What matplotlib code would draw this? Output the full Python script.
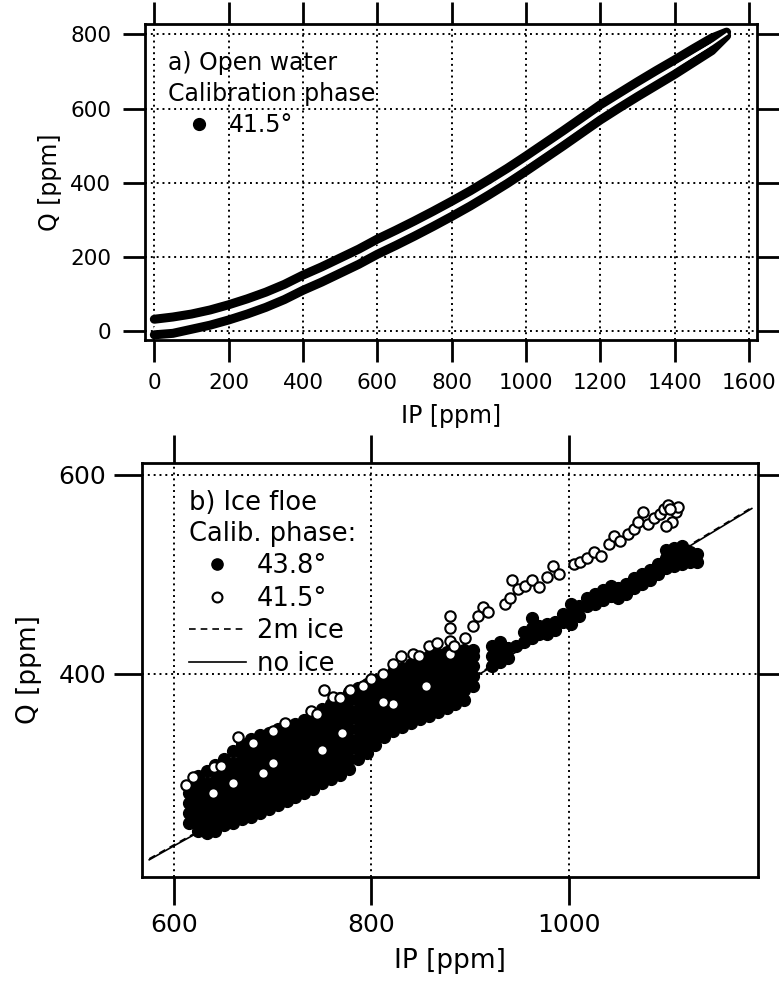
import matplotlib
matplotlib.use("Agg")
import matplotlib.pyplot as plt

plt.rcParams['font.family'] = ['DejaVu Sans']
plt.rcParams['font.size'] = 15

# --- a) open water, calibration phase 41.5 deg ---
ip_a = [0, 50, 100, 150, 200, 250, 300, 350, 400, 450, 500, 550, 600, 650, 700,
        750, 800, 850, 900, 950, 1000, 1050, 1100, 1150, 1200, 1250, 1300, 1350,
        1400, 1450, 1500, 1540]
q_a_upper = [32, 38, 46, 57, 71, 87, 105, 126, 151, 173, 197, 221, 248, 272, 297,
             323, 350, 378, 408, 439, 472, 506, 540, 575, 610, 641, 672, 702,
             731, 761, 790, 806]
q_a_lower = [-10, -6, 5, 16, 30, 46, 64, 85, 110, 132, 156, 180, 207, 231, 256,
             282, 309, 337, 367, 398, 431, 465, 499, 534, 569, 601, 632, 662,
             692, 724, 756, 796]
q_a_fit = [8, 15, 25, 36, 50, 66, 84, 105, 130, 152, 176, 200, 227, 251, 276,
           302, 329, 357, 387, 418, 451, 485, 519, 554, 589, 621, 652, 682,
           712, 742, 773, 801]

# --- b) ice floe, phase 43.8 deg (filled) ---
ip_438 = [615, 615, 615, 615, 615,
          624, 624, 624, 624, 624, 624, 624,
          633, 633, 633, 633, 633, 633, 633,
          642, 642, 642, 642, 642, 642, 642, 642,
          651, 651, 651, 651, 651, 651, 651, 651,
          660, 660, 660, 660, 660, 660, 660, 660,
          669, 669, 669, 669, 669, 669, 669, 669, 669,
          678, 678, 678, 678, 678, 678, 678, 678, 678,
          687, 687, 687, 687, 687, 687, 687, 687, 687,
          696, 696, 696, 696, 696, 696, 696, 696, 696,
          705, 705, 705, 705, 705, 705, 705, 705, 705,
          714, 714, 714, 714, 714, 714, 714, 714, 714,
          723, 723, 723, 723, 723, 723, 723, 723, 723,
          732, 732, 732, 732, 732, 732, 732, 732, 732,
          741, 741, 741, 741, 741, 741, 741, 741, 741,
          750, 750, 750, 750, 750, 750, 750, 750, 750,
          759, 759, 759, 759, 759, 759, 759, 759, 759,
          768, 768, 768, 768, 768, 768, 768, 768, 768,
          777, 777, 777, 777, 777, 777, 777, 777, 777,
          786, 786, 786, 786, 786, 786, 786, 786, 786,
          795, 795, 795, 795, 795, 795, 795, 795,
          804, 804, 804, 804, 804, 804, 804, 804,
          813, 813, 813, 813, 813, 813, 813, 813,
          822, 822, 822, 822, 822, 822, 822,
          831, 831, 831, 831, 831, 831, 831,
          840, 840, 840, 840, 840, 840, 840,
          849, 849, 849, 849, 849, 849, 849,
          858, 858, 858, 858, 858, 858, 858,
          867, 867, 867, 867, 867, 867, 867,
          876, 876, 876, 876, 876, 876, 876,
          885, 885, 885, 885, 885, 885, 885,
          894, 894, 894, 894, 894, 894,
          903, 903, 903, 903, 903,
          922, 922, 922, 930, 930, 930, 938, 938, 946, 954, 954,
          962, 962, 962, 970, 970, 978, 978, 986, 986, 994, 994,
          1002, 1002, 1002, 1010, 1010, 1018, 1018, 1026, 1026, 1034, 1034,
          1042, 1042, 1050, 1050, 1058, 1058, 1066, 1066, 1074, 1074,
          1082, 1082, 1090, 1090, 1098, 1098, 1098, 1106, 1106, 1106,
          1114, 1114, 1114, 1122, 1122, 1130, 1130]
q_438 = [250, 260, 270, 280, 286,
         242, 252, 262, 272, 282, 292, 297,
         240, 250, 260, 270, 280, 290, 302,
         242, 252, 262, 272, 282, 292, 302, 308,
         248, 258, 268, 278, 288, 298, 308, 314,
         250, 260, 270, 280, 290, 300, 310, 322,
         254, 264, 274, 284, 294, 304, 314, 322, 329,
         256, 266, 276, 286, 296, 306, 316, 326, 334,
         260, 270, 280, 290, 300, 310, 320, 330, 338,
         264, 274, 284, 294, 304, 314, 324, 334, 340,
         268, 278, 288, 298, 308, 318, 328, 338, 344,
         272, 282, 292, 302, 312, 322, 332, 342, 346,
         276, 286, 296, 306, 316, 326, 336, 346, 349,
         280, 290, 300, 310, 320, 330, 340, 350, 353,
         284, 294, 304, 314, 324, 334, 344, 354, 358,
         290, 300, 310, 320, 330, 340, 350, 360, 365,
         294, 304, 314, 324, 334, 344, 354, 364, 370,
         298, 308, 318, 328, 338, 348, 358, 368, 376,
         304, 314, 324, 334, 344, 354, 364, 374, 382,
         314, 324, 334, 344, 354, 364, 374, 384, 386,
         320, 330, 340, 350, 360, 370, 380, 390,
         328, 338, 348, 358, 368, 378, 388, 394,
         336, 346, 356, 366, 376, 386, 396, 398,
         342, 352, 362, 372, 382, 392, 402,
         346, 356, 366, 376, 386, 396, 406,
         350, 360, 370, 380, 390, 400, 410,
         354, 364, 374, 384, 394, 404, 414,
         358, 368, 378, 388, 398, 408, 418,
         362, 372, 382, 392, 402, 412, 420,
         366, 376, 386, 396, 406, 416, 422,
         370, 380, 390, 400, 410, 420, 424,
         374, 384, 394, 404, 414, 424,
         388, 398, 408, 418, 424,
         408, 418, 428, 412, 422, 432, 416, 426, 428, 432, 442,
         436, 446, 456, 440, 448, 440, 450, 444, 452, 452, 460,
         450, 460, 470, 458, 468, 468, 476, 470, 480, 474, 484,
         478, 488, 476, 486, 480, 490, 486, 496, 490, 500,
         494, 504, 500, 510, 506, 516, 524, 508, 518, 526,
         510, 520, 528, 512, 522, 512, 520]

# --- b) ice floe, phase 41.5 deg (open) ---
ip_415 = [612, 619, 641, 648, 665, 680, 700, 712, 739, 745, 752, 761, 768, 778,
          791, 800, 812, 822, 830, 842, 848, 858, 866, 879, 879, 879, 879, 884,
          895, 903, 908, 913, 918, 935, 940, 942, 948, 955, 962, 970, 978, 984,
          990, 1005, 1011, 1018, 1025, 1032, 1040, 1045, 1052, 1060, 1066, 1070,
          1075, 1080, 1086, 1092, 1096, 1100, 1104, 1108, 1110, 1098, 1102,
          640, 660, 700, 750, 822, 855, 690, 770, 812]
q_415 = [288, 296, 306, 307, 336, 330, 342, 350, 363, 360, 384, 377, 376, 384,
         388, 395, 400, 410, 418, 420, 418, 428, 431, 420, 433, 446, 458, 428,
         436, 448, 458, 467, 462, 470, 476, 494, 485, 488, 494, 487, 497, 508,
         500, 510, 512, 516, 522, 518, 530, 538, 533, 540, 545, 552,
         562, 550, 556, 560, 566, 570, 552, 562, 568, 548, 566,
         280, 290, 310, 323, 370, 388, 300, 340, 372]

# --- b) model curves ---
ip_model = [575, 600, 700, 800, 910, 1000, 1100, 1185]
q_noice = [213, 227, 282, 338, 400, 454, 515, 566]
q_2m = [214, 228, 283, 339, 401, 455, 516, 567]

fig = plt.figure(figsize=(7.79, 9.81), dpi=100)

tick_kw = dict(direction='out', width=2, top=True, right=True,
               labeltop=False, labelright=False)

# top panel
ax1 = fig.add_axes([0.1857, 0.6534, 0.7857, 0.3218])
ax1.plot(ip_a, q_a_upper, '-', color='black', lw=6.5, solid_capstyle='round')
ax1.plot(ip_a, q_a_lower, '-', color='black', lw=6.5, solid_capstyle='round')
ax1.plot(ip_a, q_a_fit, '-', color='white', lw=1.5)
ax1.plot([], [], 'o', color='black', ms=8.5, label='41.5°')
ax1.set_xlim(-26, 1621)
ax1.set_ylim(-24, 827)
ax1.set_xticks(range(0, 1601, 200))
ax1.set_yticks(range(0, 801, 200))
ax1.grid(True, linestyle=(0, (1, 2)), color='black', lw=1.4)
ax1.tick_params(length=16, pad=8, labelsize=15.5, **tick_kw)
ax1.set_xlabel('IP [ppm]', fontsize=17, labelpad=8)
ax1.set_ylabel('Q [ppm]', fontsize=17, labelpad=6)
leg1 = ax1.legend(loc='upper left', bbox_to_anchor=(0.038, 0.915), frameon=False,
                  title='a) Open water\nCalibration phase', alignment='left',
                  fontsize=17, title_fontsize=17, handlelength=2.63,
                  handletextpad=-0.05, labelspacing=0.3,
                  borderaxespad=0, borderpad=0)
leg1.get_title().set_linespacing(1.37)

# bottom panel
ax2 = fig.add_axes([0.1827, 0.1063, 0.79, 0.422])
ax2.plot(ip_model, q_2m, linestyle=(0, (4, 3)), color='black', lw=1.2, label='2m ice')
ax2.plot(ip_model, q_noice, '-', color='black', lw=1.2, label='no ice')
ax2.plot(ip_438, q_438, 'o', color='black', ms=8.5, ls='none', label='43.8°')
ax2.plot(ip_415, q_415, 'o', mfc='white', mec='black', mew=1.5, ms=7.5,
         ls='none', label='41.5°')
ax2.set_xlim(568, 1191)
ax2.set_ylim(196, 612)
ax2.set_xticks([600, 800, 1000])
ax2.set_yticks([400, 600])
ax2.grid(True, linestyle=(0, (1, 2)), color='black', lw=1.4)
ax2.tick_params(length=20, pad=6, labelsize=18, **tick_kw)
ax2.set_xlabel('IP [ppm]', fontsize=19, labelpad=8)
ax2.set_ylabel('Q [ppm]', fontsize=19, labelpad=12)
h, l = ax2.get_legend_handles_labels()
order = [2, 3, 0, 1]
leg2 = ax2.legend([h[i] for i in order], [l[i] for i in order], loc='upper left',
                  bbox_to_anchor=(0.076, 0.933), frameon=False,
                  title='b) Ice floe\nCalib. phase:', alignment='left',
                  fontsize=18.5, title_fontsize=18.5, markerscale=0.95,
                  handlelength=2.2, handletextpad=0.43, labelspacing=0.25,
                  borderaxespad=0, borderpad=0)
leg2.get_title().set_linespacing(1.22)

for ax in (ax1, ax2):
    for s in ax.spines.values():
        s.set_linewidth(2)

fig.savefig('out.png', dpi=100)
